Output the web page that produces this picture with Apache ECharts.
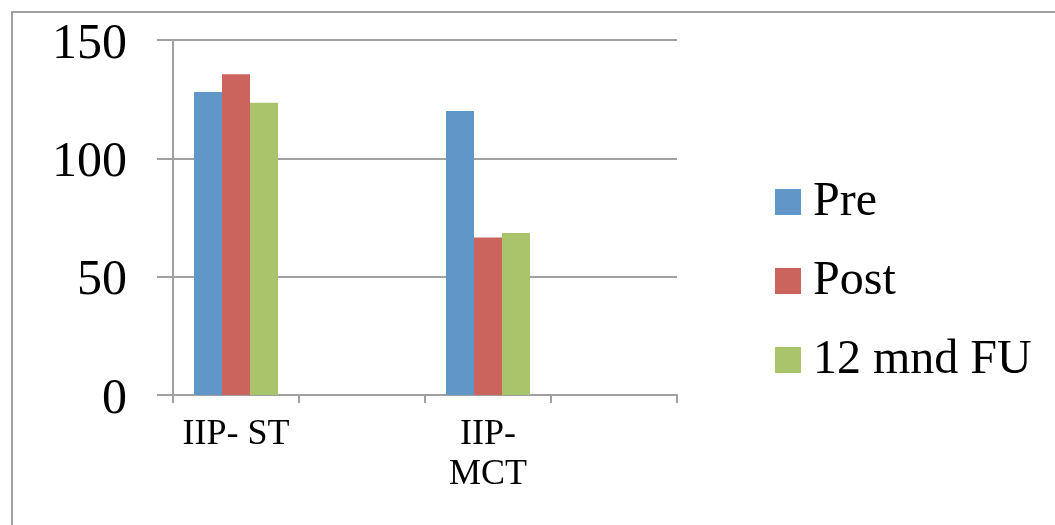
<!DOCTYPE html>
<html>
<head>
<meta charset="utf-8">
<script src="https://cdn.jsdelivr.net/npm/echarts@6/dist/echarts.min.js"></script>
<style>
html,body{margin:0;padding:0;background:#fff;}
#chart{width:1055px;height:525px;}
</style>
</head>
<body>
<div id="chart"></div>
<script>
const categories = ['IIP- ST', '', 'IIP-\nMCT', ''];
const seriesNames = ['Pre', 'Post', '12 mnd FU'];
const preValues = [128, null, 120, null];
const postValues = [135.5, null, 66.5, null];
const fuValues = [123.5, null, 68.5, null];
const yTicks = [0, 50, 100, 150];

const colors = ['#6196c9', '#cc645e', '#aac46b'];
const chart = echarts.init(document.getElementById('chart'));
const serif = '"Liberation Serif", "Times New Roman", serif';
const gridColor = '#a0a0a0';

chart.setOption({
  animation: false,
  backgroundColor: '#fff',
  graphic: [{
    type: 'rect',
    shape: { x: 12, y: 12, width: 1200, height: 700 },
    style: { fill: 'none', stroke: '#a0a0a0', lineWidth: 2 },
    silent: true
  }],
  grid: { left: 173, right: 378, top: 40, bottom: 130 },
  legend: {
    orient: 'vertical',
    left: 770,
    top: 173,
    itemWidth: 26,
    itemHeight: 26,
    itemGap: 31,
    icon: 'rect',
    textStyle: { fontFamily: serif, fontSize: 48, lineHeight: 46, color: '#000', padding: [0, 0, 0, 7] },
    data: seriesNames
  },
  xAxis: {
    type: 'category',
    data: categories,
    boundaryGap: true,
    axisLine: { lineStyle: { color: gridColor, width: 2 } },
    axisTick: { show: true, length: 8, interval: 0, lineStyle: { color: gridColor, width: 2 } },
    axisLabel: { interval: 0, margin: 20, fontFamily: serif, fontSize: 36, lineHeight: 40, color: '#000' }
  },
  yAxis: {
    type: 'value',
    min: yTicks[0],
    max: yTicks[yTicks.length - 1],
    interval: yTicks[1] - yTicks[0],
    axisLine: { show: true, lineStyle: { color: gridColor, width: 2 } },
    axisTick: { show: true, length: 16, lineStyle: { color: gridColor, width: 2 } },
    splitLine: { show: true, lineStyle: { color: gridColor, width: 2 } },
    axisLabel: { margin: 46, fontFamily: serif, fontSize: 50, color: '#000', verticalAlign: 'top', lineHeight: 9 }
  },
  series: [
    { name: seriesNames[0], type: 'bar', data: preValues, barWidth: 28, barGap: '0%', itemStyle: { color: colors[0] } },
    { name: seriesNames[1], type: 'bar', data: postValues, barWidth: 28, barGap: '0%', itemStyle: { color: colors[1] } },
    { name: seriesNames[2], type: 'bar', data: fuValues, barWidth: 28, barGap: '0%', itemStyle: { color: colors[2] } }
  ]
});
</script>
</body>
</html>
